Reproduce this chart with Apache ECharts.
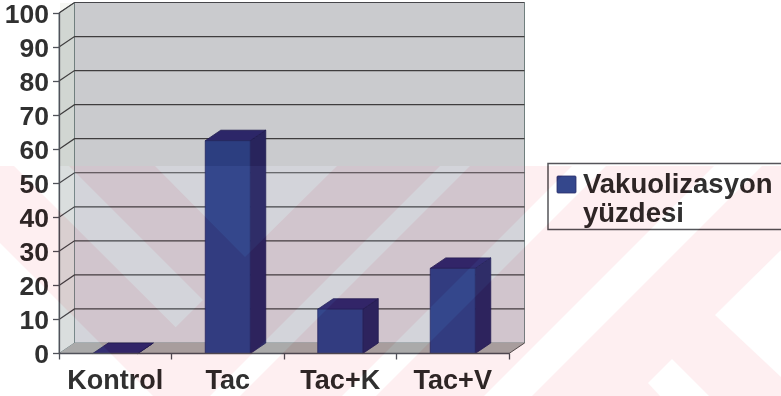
<!DOCTYPE html>
<html>
<head>
<meta charset="utf-8">
<script src="https://cdn.jsdelivr.net/npm/echarts@6/dist/echarts.min.js"></script>
<style>html,body{margin:0;padding:0;background:#fff}#chart{width:781px;height:396px}</style>
</head>
<body>
<div id="chart"></div>
<script>
// Chart data
const categories = ['Kontrol', 'Tac', 'Tac+K', 'Tac+V'];
const vakuolizasyon = [0, 62.5, 13, 25];
const yTicks = [10, 20, 30, 40, 50, 60, 70, 80, 90, 100];
const legendLines = ['Vakuolizasyon', 'yüzdesi'];

// Oblique projection offset of the pseudo-3D box
const DEPTH_X = 15.5;
const DEPTH_Y = -10.5;
const FONT = '"Liberation Sans", Arial, sans-serif';

// Page watermark: a pale band with diagonal openings cut out of it
const bandTop = 166;
const openings = [
  [[14, 166], [69, 166], [203, 300], [175.7, 327.3]],
  [[155, 166], [337, 166], [245, 257]],
  [[0, 243], [153, 396], [0, 396]],
  [[440, 166], [470, 166], [240, 396], [210, 396]],
  [[572, 166], [606, 166], [376, 396], [342, 396]],
  [[714, 166], [762, 166], [532, 396], [484, 396]],
  [[672, 359], [709, 396], [660, 396], [648, 383]],
  [[715, 315], [781, 250], [781, 377]]
];

// Openings are wound against the outer rectangle so they stay unfilled
function traceRing(ctx, points) {
  let area = 0;
  points.forEach((p, i) => {
    const q = points[(i + 1) % points.length];
    area += p[0] * q[1] - q[0] * p[1];
  });
  const ordered = area > 0 ? points.slice().reverse() : points;
  ordered.forEach((p, i) => (i ? ctx.lineTo(p[0], p[1]) : ctx.moveTo(p[0], p[1])));
  ctx.closePath();
}
echarts.graphic.registerShape('watermarkBand', echarts.graphic.extendShape({
  shape: {},
  buildPath(ctx) {
    ctx.moveTo(0, bandTop);
    ctx.lineTo(781, bandTop);
    ctx.lineTo(781, 396);
    ctx.lineTo(0, 396);
    ctx.closePath();
    openings.forEach(o => traceRing(ctx, o));
  }
}));

// Back wall, side wall, floor and the receding gridlines
function renderRoom(params, api) {
  const origin = api.coord([0, 0]);
  const x0 = params.coordSys.x;
  const x1 = x0 + params.coordSys.width;
  const y0 = origin[1];
  const yTop = api.coord([0, 100])[1];
  const bx = x => x + DEPTH_X;
  const by = y => y + DEPTH_Y;
  const children = [
    { type: 'polygon', shape: { points: [[bx(x0), by(yTop)], [bx(x1), by(yTop)], [bx(x1), by(y0)], [bx(x0), by(y0)]] },
      style: { fill: '#d3d4da', stroke: '#78888a', lineWidth: 1 } },
    { type: 'polygon', shape: { points: [[x0, yTop], [bx(x0), by(yTop)], [bx(x0), by(y0)], [x0, y0]] },
      style: { fill: '#dadede', stroke: '#78888a', lineWidth: 1 } },
    { type: 'polygon', shape: { points: [[x0, y0], [x1, y0], [bx(x1), by(y0)], [bx(x0), by(y0)]] },
      style: { fill: '#aaaaaa', stroke: null } }
  ];
  yTicks.forEach(v => {
    const y = api.coord([0, v])[1];
    children.push({ type: 'polyline',
      shape: { points: [[x0, y], [bx(x0), by(y)], [bx(x1), by(y)]] },
      style: { fill: null, stroke: '#46464a', lineWidth: 1.2 } });
  });
  children.push({ type: 'polyline', shape: { points: [[x1, y0], [bx(x1), by(y0)]] },
    style: { fill: null, stroke: '#555', lineWidth: 1 } });
  return { type: 'group', children };
}

// One oblique column: front face, right side and lid
function renderBar(params, api) {
  const cat = api.value(0);
  const top = api.coord([cat, api.value(1)]);
  const base = api.coord([cat, 0]);
  const half = api.size([1, 0])[0] * 0.2;
  const l = top[0] - half, r = top[0] + half;
  const t = top[1], b = base[1];
  const dx = DEPTH_X, dy = DEPTH_Y;
  return {
    type: 'group',
    children: [
      { type: 'polygon', shape: { points: [[r, t], [r + dx, t + dy], [r + dx, b + dy], [r, b]] },
        style: { fill: '#2f2d68', stroke: '#26235a', lineWidth: 0.8 } },
      { type: 'polygon', shape: { points: [[l, t], [l + dx, t + dy], [r + dx, t + dy], [r, t]] },
        style: { fill: '#342f74', stroke: '#26235a', lineWidth: 0.8 } },
      { type: 'rect', shape: { x: l, y: t, width: r - l, height: b - t },
        style: { fill: '#34478c', stroke: '#2a2e6a', lineWidth: 0.8 } }
    ]
  };
}

const chart = echarts.init(document.getElementById('chart'), null, { renderer: 'canvas' });
chart.setOption({
  animation: false,
  backgroundColor: '#ffffff',
  grid: { left: 59, top: 13, width: 450, height: 340.5, containLabel: false },
  xAxis: {
    type: 'category',
    data: categories,
    z: 5,
    axisLine: { show: true, lineStyle: { color: '#50525a', width: 1.3 } },
    axisTick: { show: true, alignWithLabel: false, length: 6, lineStyle: { color: '#50525a', width: 1.3 } },
    axisLabel: { color: '#303030', fontFamily: FONT, fontWeight: 'bold', fontSize: 27, margin: 15, interval: 0 },
    splitLine: { show: false }
  },
  yAxis: {
    type: 'value',
    min: 0,
    max: 100,
    interval: 10,
    z: 5,
    axisLine: { show: true, lineStyle: { color: '#50525a', width: 1.3 } },
    axisTick: { show: true, length: 6, lineStyle: { color: '#50525a', width: 1.3 } },
    axisLabel: {
      fontFamily: FONT,
      margin: 10,
      formatter: '{n|{value}}',
      rich: { n: { color: '#303030', fontFamily: FONT, fontWeight: 'bold', fontSize: 26.5, padding: [5, 0, 0, 0] } }
    },
    splitLine: { show: false }
  },
  series: [
    { type: 'custom', name: 'room', z: 1, silent: true, clip: false, renderItem: renderRoom, data: [[0]],
      encode: { x: 0 } },
    { type: 'custom', name: legendLines.join(' '), z: 2, silent: true, clip: false, renderItem: renderBar,
      data: vakuolizasyon.map((v, i) => [i, v]), encode: { x: 0, y: 1 } }
  ],
  graphic: [
    // Legend box
    { type: 'rect', z: 6, silent: true, shape: { x: 548, y: 163.5, width: 240, height: 66 },
      style: { fill: null, stroke: '#55555a', lineWidth: 1.5 } },
    { type: 'rect', z: 6, silent: true, shape: { x: 557, y: 176, width: 19, height: 17, r: 1 },
      style: { fill: '#34478c', stroke: '#2a2e6a', lineWidth: 0.8 } },
    { type: 'text', z: 6, silent: true, x: 583, y: 171,
      style: { text: legendLines.join('\n'), fill: '#303030', font: `bold 27.5px ${FONT}`, lineHeight: 29 } },
    // Pale tint of the band over page and wall, with a stronger effect on the dark columns
    { type: 'watermarkBand', z: 50, silent: true, style: { fill: 'rgb(254,240,242)', blend: 'multiply' } },
    { type: 'watermarkBand', z: 51, silent: true, style: { fill: 'rgb(252,246,245)', blend: 'color-burn' } },
    // Upper part of the plot sits slightly darker
    { type: 'rect', z: 50, silent: true, shape: { x: 60, y: 3, width: 465, height: bandTop - 3 },
      style: { fill: 'rgb(246,247,244)', blend: 'multiply' } },
    { type: 'rect', z: 51, silent: true, shape: { x: 60, y: 3, width: 465, height: bandTop - 3 },
      style: { fill: 'rgb(248,246,243)', blend: 'color-burn' } }
  ]
});
</script>
</body>
</html>
